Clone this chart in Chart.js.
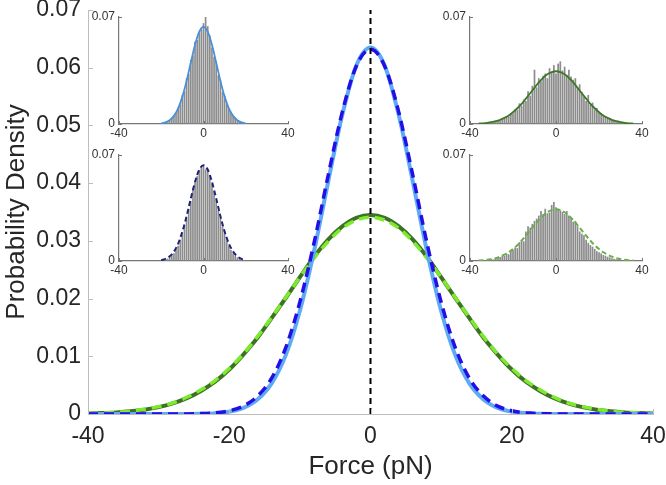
<!DOCTYPE html>
<html>
<head>
<meta charset="utf-8">
<script src="https://cdn.jsdelivr.net/npm/chart.js@4.4.0/dist/chart.umd.min.js"></script>
<style>
  body { margin: 0; background: #fff; }
  #wrap { position: relative; width: 666px; height: 485px; }
  canvas { position: absolute; }
</style>
</head>
<body>
<div id="wrap">
  <canvas id="main" width="666" height="485" style="left:0;top:0"></canvas>
  <canvas id="insetA"></canvas>
  <canvas id="insetB"></canvas>
  <canvas id="insetC"></canvas>
  <canvas id="insetD"></canvas>
</div>
<script>
// === DATA ===
const forceGrid = [-40, -38, -36, -34, -32, -30, -28, -26, -24, -22, -20, -18, -16, -14, -12, -10, -8, -6, -4, -2,
  0, 2, 4, 6, 8, 10, 12, 14, 16, 18, 20, 22, 24, 26, 28, 30, 32, 34, 36, 38, 40];

const narrowSolid = [0, 0, 0, 0, 0, 0, 0, 0.00001, 0.00004, 0.00014, 0.0004, 0.00105, 0.0025, 0.0053, 0.0102, 0.0179, 0.0282, 0.0402, 0.0518, 0.0604,
  0.0635, 0.0604, 0.0518, 0.0402, 0.0282, 0.0179, 0.0102, 0.0053, 0.0025, 0.00105, 0.0004, 0.00014, 0.00004, 0.00001, 0, 0, 0, 0, 0, 0, 0];
const narrowDashed = [0, 0, 0, 0, 0, 0, 0.00001, 0.00002, 0.00007, 0.0002, 0.00056, 0.00137, 0.0031, 0.0062, 0.0115, 0.0194, 0.0296, 0.0413, 0.0523, 0.0603,
  0.0632, 0.0603, 0.0523, 0.0413, 0.0296, 0.0194, 0.0115, 0.0062, 0.0031, 0.00137, 0.00056, 0.0002, 0.00007, 0.00002, 0.00001, 0, 0, 0, 0, 0, 0];
const wideSolid = [0.00009, 0.00016, 0.00027, 0.00046, 0.00075, 0.00119, 0.00184, 0.00275, 0.0040, 0.0056, 0.0077, 0.0103, 0.0132, 0.0166, 0.0201, 0.0237, 0.0272, 0.0302, 0.0325, 0.0340,
  0.0345, 0.0340, 0.0325, 0.0302, 0.0272, 0.0237, 0.0201, 0.0166, 0.0132, 0.0103, 0.0077, 0.0056, 0.0040, 0.00275, 0.00184, 0.00119, 0.00075, 0.00046, 0.00027, 0.00016, 0.00009];
const wideDashed = [0.0001, 0.00017, 0.0003, 0.0005, 0.00081, 0.00128, 0.0019, 0.0029, 0.0042, 0.0058, 0.0079, 0.0104, 0.0134, 0.0167, 0.0202, 0.0237, 0.0270, 0.0299, 0.0322, 0.0336,
  0.0341, 0.0336, 0.0322, 0.0299, 0.0270, 0.0237, 0.0202, 0.0167, 0.0134, 0.0104, 0.0079, 0.0058, 0.0042, 0.0029, 0.0019, 0.00128, 0.00081, 0.0005, 0.0003, 0.00017, 0.0001];

const zeroLineX = [0, 0];
const zeroLineY = [0, 0.07];

const mainXTicks = [-40, -20, 0, 20, 40];
const mainYTicks = [0, 0.01, 0.02, 0.03, 0.04, 0.05, 0.06, 0.07];
const insetXTicks = [-40, 0, 40];
const insetYTicks = [0, 0.07];

// histogram bin centres
const binsNarrow = [-20, -19, -18, -17, -16, -15, -14, -13, -12, -11, -10, -9, -8, -7, -6, -5, -4, -3, -2, -1,
  0, 1, 2, 3, 4, 5, 6, 7, 8, 9, 10, 11, 12, 13, 14, 15, 16, 17, 18, 19, 20];
const binsWide = [-36, -35, -34, -33, -32, -31, -30, -29, -28, -27, -26, -25, -24, -23, -22, -21, -20, -19, -18, -17,
  -16, -15, -14, -13, -12, -11, -10, -9, -8, -7, -6, -5, -4, -3, -2, -1, 0, 1, 2, 3, 4, 5, 6, 7, 8, 9, 10, 11,
  12, 13, 14, 15, 16, 17, 18, 19, 20, 21, 22, 23, 24, 25, 26, 27, 28, 29, 30, 31, 32, 33, 34, 35, 36];

const histA = [0.0003, 0.0004, 0.0008, 0.0012, 0.0022, 0.0035, 0.0058, 0.0072, 0.0110, 0.0128, 0.0190, 0.0215, 0.0300, 0.0330, 0.0420, 0.0450, 0.0540, 0.0550, 0.0600, 0.0620,
  0.0660, 0.0700, 0.0640, 0.0580, 0.0500, 0.0440, 0.0410, 0.0320, 0.0290, 0.0210, 0.0185, 0.0130, 0.0098, 0.0080, 0.0050, 0.0040, 0.0022, 0.0014, 0.0009, 0.0005, 0.0003];
const histB = [0.0003, 0.0005, 0.0009, 0.0016, 0.0026, 0.0038, 0.0052, 0.0078, 0.0100, 0.0140, 0.0175, 0.0230, 0.0280, 0.0345, 0.0395, 0.0465, 0.0515, 0.0560, 0.0600, 0.0615,
  0.0630, 0.0605, 0.0610, 0.0565, 0.0510, 0.0460, 0.0400, 0.0335, 0.0285, 0.0225, 0.0180, 0.0135, 0.0100, 0.0072, 0.0050, 0.0035, 0.0024, 0.0015, 0.0010, 0.0006, 0.0003];
const histC = [0.0002, 0.0003, 0.0003, 0.0005, 0.0004, 0.0008, 0.0010, 0.0014, 0.0016, 0.0025, 0.0022, 0.0035, 0.0038, 0.0052, 0.0050, 0.0072, 0.0068, 0.0095, 0.0092, 0.0135,
  0.0120, 0.0160, 0.0150, 0.0215, 0.0185, 0.0250, 0.0355, 0.0240, 0.0300, 0.0280, 0.0315, 0.0330, 0.0300, 0.0365, 0.0340, 0.0385, 0.0330, 0.0395, 0.0410, 0.0350,
  0.0375, 0.0320, 0.0355, 0.0310, 0.0290, 0.0300, 0.0240, 0.0260, 0.0210, 0.0180, 0.0150, 0.0190, 0.0125, 0.0140, 0.0095, 0.0105, 0.0080, 0.0072, 0.0055, 0.0050,
  0.0038, 0.0040, 0.0025, 0.0028, 0.0015, 0.0022, 0.0012, 0.0010, 0.0006, 0.0008, 0.0004, 0.0003, 0.0002];
const histD = [0.0002, 0.0002, 0.0004, 0.0005, 0.0007, 0.0006, 0.0012, 0.0011, 0.0018, 0.0020, 0.0026, 0.0035, 0.0034, 0.0050, 0.0045, 0.0068, 0.0075, 0.0090, 0.0085, 0.0125,
  0.0140, 0.0130, 0.0195, 0.0230, 0.0220, 0.0245, 0.0265, 0.0280, 0.0300, 0.0330, 0.0310, 0.0345, 0.0315, 0.0320, 0.0370, 0.0390, 0.0355, 0.0345, 0.0335, 0.0325,
  0.0310, 0.0330, 0.0300, 0.0280, 0.0260, 0.0265, 0.0230, 0.0195, 0.0180, 0.0170, 0.0140, 0.0120, 0.0105, 0.0095, 0.0080, 0.0065, 0.0058, 0.0050, 0.0040, 0.0035,
  0.0028, 0.0024, 0.0018, 0.0015, 0.0011, 0.0009, 0.0007, 0.0005, 0.0004, 0.0003, 0.0002, 0.0001, 0.0001];

// fit line span shown in each inset
const fitRangeNarrow = [-20, 20];
const fitRangeWide = [-36, 36];

// === STYLE ===
const FONT = "'Liberation Sans', Arial, Helvetica, sans-serif";
Chart.defaults.font.family = FONT;
Chart.defaults.color = "#262626";

const pts = (xs, ys) => xs.map((x, i) => ({ x, y: ys[i] }));
const inRange = (xs, ys, r) => pts(xs, ys).filter((p) => p.x >= r[0] && p.x <= r[1]);
// no extra room for overhanging tick labels, so the plot box sits where it is told
const noPad = (s) => { s.paddingTop = 0; s.paddingBottom = 0; s.paddingLeft = 0; s.paddingRight = 0; };

// MATLAB style ticks pointing into the axes
const inwardTicks = {
  id: "inwardTicks",
  afterDraw(chart, args, opts) {
    const { ctx, chartArea: a, scales } = chart;
    ctx.save();
    ctx.strokeStyle = opts.color;
    ctx.lineWidth = 1;
    scales.x.ticks.forEach((t) => {
      const px = Math.round(scales.x.getPixelForValue(t.value)) + 0.5;
      ctx.beginPath();
      ctx.moveTo(px, a.bottom);
      ctx.lineTo(px, a.bottom - opts.len);
      ctx.stroke();
    });
    scales.y.ticks.forEach((t) => {
      const py = Math.round(scales.y.getPixelForValue(t.value)) + 0.5;
      ctx.beginPath();
      ctx.moveTo(a.left, py);
      ctx.lineTo(a.left + opts.len, py);
      ctx.stroke();
    });
    ctx.restore();
  },
};

// === MAIN CHART ===
new Chart(document.getElementById("main"), {
  type: "line",
  data: {
    datasets: [
      { data: pts(zeroLineX, zeroLineY), borderColor: "#000", borderWidth: 2, borderDash: [6, 4], cubicInterpolationMode: "default", tension: 0, order: 0 },
      { data: pts(forceGrid, narrowDashed), borderColor: "rgb(35,15,230)", borderWidth: 3.5, borderDash: [10, 6], order: 1 },
      { data: pts(forceGrid, narrowSolid), borderColor: "rgb(95,170,245)", borderWidth: 4, order: 2 },
      { data: pts(forceGrid, wideDashed), borderColor: "rgb(125,235,45)", borderWidth: 3.5, borderDash: [10, 6], order: 3 },
      { data: pts(forceGrid, wideSolid), borderColor: "rgb(62,112,38)", borderWidth: 4, order: 4 },
    ],
  },
  options: {
    responsive: false,
    animation: false,
    layout: { padding: { top: 10, right: 13, left: 0, bottom: 0 } },
    elements: { point: { radius: 0 }, line: { cubicInterpolationMode: "monotone" } },
    plugins: {
      legend: { display: false },
      tooltip: { enabled: false },
      inwardTicks: { color: "#bdbdbd", len: 5 },
    },
    scales: {
      x: {
        type: "linear",
        min: -40,
        max: 40,
        afterBuildTicks: (s) => { s.ticks = mainXTicks.map((v) => ({ value: v })); },
        afterFit: (s) => { s.height = 71; noPad(s); },
        grid: { drawOnChartArea: false, drawTicks: false },
        border: { color: "#bdbdbd" },
        ticks: { font: { size: 23 }, padding: 9, maxRotation: 0 },
        title: { display: true, text: "Force (pN)", font: { size: 26 }, padding: { top: 0, bottom: 3 } },
      },
      y: {
        min: 0,
        max: 0.07,
        afterBuildTicks: (s) => { s.ticks = mainYTicks.map((v) => ({ value: v })); },
        afterFit: (s) => { s.width = 88; noPad(s); },
        grid: { drawOnChartArea: false, drawTicks: false },
        border: { color: "#bdbdbd" },
        ticks: { font: { size: 23 }, padding: 7, callback: (v) => (v === 0 ? "0" : v.toFixed(2)) },
        title: { display: true, text: "Probability Density", font: { size: 26 }, padding: { top: 1, bottom: 0 } },
      },
    },
  },
  plugins: [inwardTicks],
});

// === INSETS ===
function makeInset(id, box, bins, counts, fit, lineStyle) {
  const padL = 40, padT = 8, padR = 15, padB = 22;
  const cv = document.getElementById(id);
  cv.width = box.right - box.left + padL + padR;
  cv.height = box.bottom - box.top + padT + padB;
  cv.style.left = box.left - padL + "px";
  cv.style.top = box.top - padT + "px";

  new Chart(cv, {
    type: "bar",
    data: {
      datasets: [
        {
          type: "line",
          data: fit,
          borderColor: lineStyle.color,
          borderWidth: lineStyle.width,
          borderDash: lineStyle.dash,
          cubicInterpolationMode: "monotone",
          pointRadius: 0,
          order: 0,
        },
        {
          data: pts(bins, counts),
          backgroundColor: "rgb(140,140,140)",
          barPercentage: 1,
          categoryPercentage: 0.8,
          order: 1,
        },
      ],
    },
    options: {
      responsive: false,
      animation: false,
      layout: { padding: { top: padT, right: padR, left: 0, bottom: 0 } },
      plugins: {
        legend: { display: false },
        tooltip: { enabled: false },
        inwardTicks: { color: "#777", len: 3 },
      },
      scales: {
        x: {
          type: "linear",
          min: -40,
          max: 40,
          offset: false,
          afterBuildTicks: (s) => { s.ticks = insetXTicks.map((v) => ({ value: v })); },
          afterFit: (s) => { s.height = padB; noPad(s); },
          grid: { drawOnChartArea: false, drawTicks: false, offset: false },
          border: { color: "#777", width: 1.2 },
          ticks: { font: { size: 12 }, padding: 2, maxRotation: 0, color: "#333" },
        },
        y: {
          min: 0,
          max: 0.07,
          afterBuildTicks: (s) => { s.ticks = insetYTicks.map((v) => ({ value: v })); },
          afterFit: (s) => { s.width = padL; noPad(s); },
          grid: { drawOnChartArea: false, drawTicks: false },
          border: { color: "#777", width: 1.2 },
          ticks: { font: { size: 12 }, padding: 4, color: "#333", callback: (v) => (v === 0 ? "0" : v.toFixed(2)) },
        },
      },
    },
    plugins: [inwardTicks],
  });
}

makeInset("insetA", { left: 119, right: 288, top: 17, bottom: 124 }, binsNarrow, histA,
  inRange(forceGrid, narrowSolid, fitRangeNarrow), { color: "rgb(74,144,217)", width: 1.8, dash: [] });
makeInset("insetB", { left: 119, right: 288, top: 155, bottom: 261 }, binsNarrow, histB,
  inRange(forceGrid, narrowDashed, fitRangeNarrow), { color: "rgb(30,35,120)", width: 2, dash: [5, 3] });
makeInset("insetC", { left: 470, right: 642, top: 17, bottom: 124 }, binsWide, histC,
  inRange(forceGrid, wideSolid, fitRangeWide), { color: "rgb(60,120,40)", width: 1.8, dash: [] });
makeInset("insetD", { left: 470, right: 642, top: 155, bottom: 261 }, binsWide, histD,
  inRange(forceGrid, wideDashed, fitRangeWide), { color: "rgb(105,175,75)", width: 2, dash: [5, 3] });
</script>
</body>
</html>
